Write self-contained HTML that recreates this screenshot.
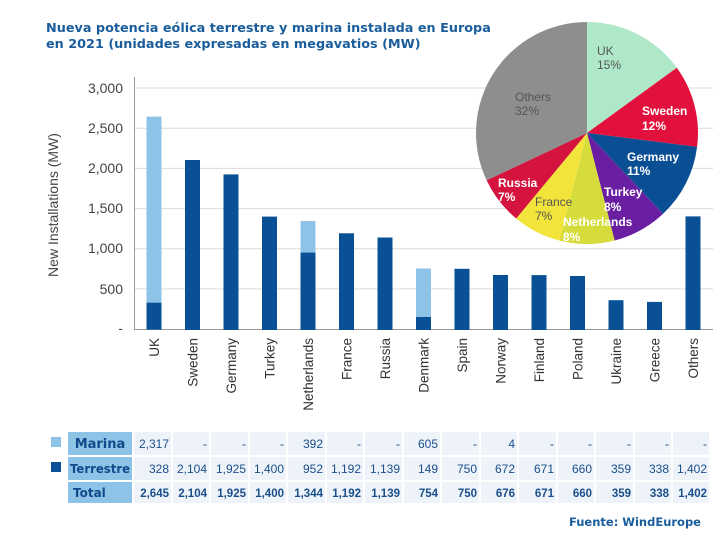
<!DOCTYPE html>
<html><head><meta charset="utf-8"><style>
body{margin:0;background:#fff;width:727px;height:538px;overflow:hidden}
svg{display:block}
</style></head><body>
<svg width="727" height="538" xmlns="http://www.w3.org/2000/svg">
<rect width="727" height="538" fill="#fff"/>
<g font-family="DejaVu Sans, sans-serif" font-weight="bold" font-size="12.8" fill="#1a5d9c">
<text x="46" y="32">Nueva potencia eólica terrestre y marina instalada en Europa</text>
<text x="46" y="48">en 2021 (unidades expresadas en megavatios (MW)</text>
</g>
<g stroke="#dcdcdc" stroke-width="1">
<line x1="134" y1="88" x2="713" y2="88"/><line x1="134" y1="128.3" x2="713" y2="128.3"/>
<line x1="134" y1="168.4" x2="713" y2="168.4"/><line x1="134" y1="208.6" x2="713" y2="208.6"/>
<line x1="134" y1="248.7" x2="713" y2="248.7"/><line x1="134" y1="288.9" x2="713" y2="288.9"/>
</g>
<line x1="134.5" y1="77" x2="134.5" y2="330" stroke="#999"/>
<line x1="134" y1="329.5" x2="713" y2="329.5" stroke="#999"/>
<g font-family="Liberation Sans, sans-serif" font-size="14" fill="#444" text-anchor="end">
<text x="123" y="93">3,000</text><text x="123" y="133">2,500</text><text x="123" y="173">2,000</text>
<text x="123" y="213">1,500</text><text x="123" y="253">1,000</text><text x="123" y="294">500</text>
<text x="123" y="333">-</text>
</g>
<text transform="translate(58,205) rotate(-90)" font-family="Liberation Sans, sans-serif" font-size="14" fill="#444" text-anchor="middle">New  Installations (MW)</text>
<g fill="#8ec3e8">
<rect x="146.5" y="116.6" width="15" height="213"/>
<rect x="300.5" y="221.1" width="15" height="108"/>
<rect x="416" y="268.5" width="15" height="61"/>
</g>
<g fill="#0a5094">
<rect x="146.5" y="302.7" width="15" height="27"/>
<rect x="185" y="160" width="15" height="170"/>
<rect x="223.5" y="174.4" width="15" height="155.6"/>
<rect x="262" y="216.6" width="15" height="113.4"/>
<rect x="300.5" y="252.6" width="15" height="77.4"/>
<rect x="339" y="233.3" width="15" height="96.7"/>
<rect x="377.5" y="237.5" width="15" height="92.5"/>
<rect x="416" y="317" width="15" height="13"/>
<rect x="454.5" y="268.8" width="15" height="61.2"/>
<rect x="493" y="275" width="15" height="55"/>
<rect x="531.5" y="275.1" width="15" height="54.9"/>
<rect x="570" y="276" width="15" height="54"/>
<rect x="608.5" y="300.2" width="15" height="29.8"/>
<rect x="647" y="301.9" width="15" height="28.1"/>
<rect x="685.5" y="216.4" width="15" height="113.6"/>
</g>
<g font-family="Liberation Sans, sans-serif" font-size="13.5" fill="#333" text-anchor="end">
<text transform="translate(159,338) rotate(-90)">UK</text>
<text transform="translate(197.5,338) rotate(-90)">Sweden</text>
<text transform="translate(236,338) rotate(-90)">Germany</text>
<text transform="translate(274.5,338) rotate(-90)">Turkey</text>
<text transform="translate(313,338) rotate(-90)">Netherlands</text>
<text transform="translate(351.5,338) rotate(-90)">France</text>
<text transform="translate(390,338) rotate(-90)">Russia</text>
<text transform="translate(428.5,338) rotate(-90)">Denmark</text>
<text transform="translate(467,338) rotate(-90)">Spain</text>
<text transform="translate(505.5,338) rotate(-90)">Norway</text>
<text transform="translate(544,338) rotate(-90)">Finland</text>
<text transform="translate(582.5,338) rotate(-90)">Poland</text>
<text transform="translate(621,338) rotate(-90)">Ukraine</text>
<text transform="translate(659.5,338) rotate(-90)">Greece</text>
<text transform="translate(698,338) rotate(-90)">Others</text>
</g>
<g>
<path d="M587,133 L587,22 A111,111 0 0 1 676.8,67.7 Z" fill="#aee8c8"/>
<path d="M587,133 L676.8,67.7 A111,111 0 0 1 697.1,146.9 Z" fill="#e2103c"/>
<path d="M587,133 L697.1,146.9 A111,111 0 0 1 663,213.9 Z" fill="#0a4f94"/>
<path d="M587,133 L663,213.9 A111,111 0 0 1 614.6,240.5 Z" fill="#6a1fa2"/>
<path d="M587,133 L614.6,240.5 A111,111 0 0 1 559.4,240.5 Z" fill="#d6dc3c"/>
<path d="M587,133 L559.4,240.5 A111,111 0 0 1 516.2,218.5 Z" fill="#f2e43a"/>
<path d="M587,133 L516.2,218.5 A111,111 0 0 1 486.6,180.3 Z" fill="#d4143e"/>
<path d="M587,133 L486.6,180.3 A111,111 0 0 1 587,22 Z" fill="#8e8e8e"/>
</g>
<g font-family="Liberation Sans, sans-serif" font-size="12">
<text x="597" y="55" fill="#555">UK</text><text x="597" y="69" fill="#555">15%</text>
<text x="515" y="101" fill="#555">Others</text><text x="515" y="115" fill="#555">32%</text>
<g fill="#fff" font-weight="bold">
<text x="642" y="115">Sweden</text><text x="642" y="130">12%</text>
<text x="627" y="161">Germany</text><text x="627" y="175">11%</text>
<text x="604" y="196">Turkey</text><text x="604" y="211">8%</text>
<text x="563" y="226">Netherlands</text><text x="563" y="241">8%</text>
<text x="498" y="187">Russia</text><text x="498" y="201">7%</text>
</g>
<text x="535" y="206" fill="#555">France</text><text x="535" y="220" fill="#555">7%</text>
</g>
<rect x="51" y="437" width="10" height="10" fill="#8ec3e8"/>
<rect x="51" y="462" width="10" height="10" fill="#0a5094"/>
<g fill="#8ec3e8">
<rect x="68" y="432" width="64" height="23"/><rect x="68" y="457" width="64" height="23"/><rect x="68" y="482" width="64" height="21"/>
</g>
<g fill="#eef3fa">
<rect x="134" y="432" width="37" height="23"/><rect x="134" y="457" width="37" height="23"/><rect x="134" y="482" width="37" height="21"/>
<rect x="173" y="432" width="36" height="23"/><rect x="173" y="457" width="36" height="23"/><rect x="173" y="482" width="36" height="21"/>
<rect x="211" y="432" width="37" height="23"/><rect x="211" y="457" width="37" height="23"/><rect x="211" y="482" width="37" height="21"/>
<rect x="250" y="432" width="36" height="23"/><rect x="250" y="457" width="36" height="23"/><rect x="250" y="482" width="36" height="21"/>
<rect x="288" y="432" width="37" height="23"/><rect x="288" y="457" width="37" height="23"/><rect x="288" y="482" width="37" height="21"/>
<rect x="327" y="432" width="36" height="23"/><rect x="327" y="457" width="36" height="23"/><rect x="327" y="482" width="36" height="21"/>
<rect x="365" y="432" width="37" height="23"/><rect x="365" y="457" width="37" height="23"/><rect x="365" y="482" width="37" height="21"/>
<rect x="404" y="432" width="36" height="23"/><rect x="404" y="457" width="36" height="23"/><rect x="404" y="482" width="36" height="21"/>
<rect x="442" y="432" width="37" height="23"/><rect x="442" y="457" width="37" height="23"/><rect x="442" y="482" width="37" height="21"/>
<rect x="481" y="432" width="36" height="23"/><rect x="481" y="457" width="36" height="23"/><rect x="481" y="482" width="36" height="21"/>
<rect x="519" y="432" width="37" height="23"/><rect x="519" y="457" width="37" height="23"/><rect x="519" y="482" width="37" height="21"/>
<rect x="558" y="432" width="36" height="23"/><rect x="558" y="457" width="36" height="23"/><rect x="558" y="482" width="36" height="21"/>
<rect x="596" y="432" width="37" height="23"/><rect x="596" y="457" width="37" height="23"/><rect x="596" y="482" width="37" height="21"/>
<rect x="635" y="432" width="36" height="23"/><rect x="635" y="457" width="36" height="23"/><rect x="635" y="482" width="36" height="21"/>
<rect x="673" y="432" width="36" height="23"/><rect x="673" y="457" width="36" height="23"/><rect x="673" y="482" width="36" height="21"/>
</g>
<g font-family="DejaVu Sans, sans-serif" font-weight="bold" fill="#104a8a">
<text x="100" y="448" font-size="13" text-anchor="middle">Marina</text>
<text x="100" y="473" font-size="12" text-anchor="middle" textLength="60" lengthAdjust="spacingAndGlyphs">Terrestre</text>
<text x="73" y="497" font-size="12">Total</text>
</g>
<g font-family="Liberation Sans, sans-serif" font-size="12" fill="#1a4f8a" text-anchor="end">
<text x="169" y="448">2,317</text><text x="207" y="448">-</text><text x="246" y="448">-</text><text x="284" y="448">-</text><text x="323" y="448">392</text><text x="361" y="448">-</text><text x="400" y="448">-</text><text x="438" y="448">605</text><text x="477" y="448">-</text><text x="515" y="448">4</text><text x="554" y="448">-</text><text x="592" y="448">-</text><text x="631" y="448">-</text><text x="669" y="448">-</text><text x="707" y="448">-</text>
<text x="169" y="473">328</text><text x="207" y="473">2,104</text><text x="246" y="473">1,925</text><text x="284" y="473">1,400</text><text x="323" y="473">952</text><text x="361" y="473">1,192</text><text x="400" y="473">1,139</text><text x="438" y="473">149</text><text x="477" y="473">750</text><text x="515" y="473">672</text><text x="554" y="473">671</text><text x="592" y="473">660</text><text x="631" y="473">359</text><text x="669" y="473">338</text><text x="707" y="473">1,402</text>
<g font-weight="bold" font-size="11.5">
<text x="169" y="497">2,645</text><text x="207" y="497">2,104</text><text x="246" y="497">1,925</text><text x="284" y="497">1,400</text><text x="323" y="497">1,344</text><text x="361" y="497">1,192</text><text x="400" y="497">1,139</text><text x="438" y="497">754</text><text x="477" y="497">750</text><text x="515" y="497">676</text><text x="554" y="497">671</text><text x="592" y="497">660</text><text x="631" y="497">359</text><text x="669" y="497">338</text><text x="707" y="497">1,402</text>
</g>
</g>
<text x="701" y="526" font-family="DejaVu Sans, sans-serif" font-weight="bold" font-size="11.5" fill="#1a5d9c" text-anchor="end">Fuente: WindEurope</text>
</svg>
</body></html>
